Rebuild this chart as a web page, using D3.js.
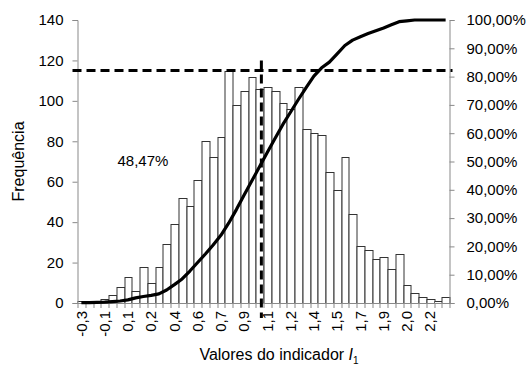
<!DOCTYPE html>
<html>
<head>
<meta charset="utf-8">
<script src="https://cdn.jsdelivr.net/npm/d3@7"></script>
<style>
  html, body { margin: 0; padding: 0; background: #fff; }
  svg { display: block; font-family: "Liberation Sans", Arial, sans-serif; }
</style>
</head>
<body>
<svg id="chart" width="531" height="366"></svg>
<script>
// histogram counts per bin (48 bins)
const freq = [1, 0, 1, 2, 4, 8, 13, 6, 18, 10,
  18, 29, 39, 52, 48, 61, 80, 72, 82, 115,
  98, 105, 112, 106, 107, 105, 99, 96, 107, 86,
  84, 83, 65, 56, 72, 44, 28, 26, 22, 23,
  17, 24, 9, 5, 3, 2, 1, 3]

// cumulative percentage
const cumPct = [0.1, 0.1, 0.2, 0.3, 0.5, 0.7, 1.1, 1.8, 2.3, 2.7,
  3.2, 4.6, 6.5, 8.5, 11.3, 14.3, 17.3, 20.5, 23.9, 28.2,
  33, 38.2, 43.2, 48.2, 53.3, 58.2, 63.1, 67.5, 71.9, 76.1,
  80.2, 83.1, 85.1, 88, 91, 92.9, 94.1, 95.2, 96.2, 97.2,
  98.3, 99.4, 99.7, 100, 100, 100, 100, 100]

// labels shown on every third bin
const tickLabels = ['-0,3', '-0,1', '0,1', '0,2', '0,4', '0,6', '0,7', '0,9',
  '1,1', '1,2', '1,4', '1,5', '1,7', '1,9', '2,0', '2,2']
const labelEvery = 3

const leftTicks = [0, 20, 40, 60, 80, 100, 120, 140]
const rightTicks = [0, 10, 20, 30, 40, 50, 60, 70, 80, 90, 100]

// value of the indicator at first / last bin centre, and the marked threshold
const binCentreRange = [-0.26, 2.31]
const threshold = 1.01
const thresholdCount = 115
const thresholdTop = 120
const shareLabel = '48,47%'

const margin = { top: 20, right: 81.5, bottom: 63, left: 77.5 }
const width = 531
const height = 366
const innerW = width - margin.left - margin.right
const innerH = height - margin.top - margin.bottom

const svg = d3.select('#chart')
const g = svg.append('g').attr('transform', `translate(${margin.left},${margin.top})`)

const x = d3.scaleBand().domain(d3.range(freq.length)).range([0, innerW]).padding(0)
const xVal = d3.scaleLinear().domain(binCentreRange)
  .range([x(0) + x.bandwidth() / 2, x(freq.length - 1) + x.bandwidth() / 2])
const y = d3.scaleLinear().domain([0, 140]).range([innerH, 0])
const y2 = d3.scaleLinear().domain([0, 100]).range([innerH, 0])

const axisColor = '#898989'
const fontSize = 15
const comma = s => s.replace('.', ',')

// bars
g.append('g')
  .selectAll('rect')
  .data(freq)
  .join('rect')
  .attr('x', (d, i) => Math.round(x(i)) + 0.5)
  .attr('y', d => Math.round(y(d)) + 0.5)
  .attr('width', (d, i) => Math.round(x(i) + x.bandwidth()) - Math.round(x(i)))
  .attr('height', d => Math.max(0, Math.round(y(0)) - Math.round(y(d))))
  .attr('fill', '#fff')
  .attr('stroke', '#333')
  .attr('stroke-width', 1)

// left axis
const leftAxis = g.append('g')
  .call(d3.axisLeft(y).tickValues(leftTicks).tickSize(5).tickPadding(9))
leftAxis.select('.domain').attr('stroke', axisColor)
leftAxis.selectAll('.tick line').attr('stroke', axisColor)
leftAxis.selectAll('text').attr('font-size', fontSize).attr('fill', '#000')
  .attr('font-family', '"Liberation Sans", Arial, sans-serif')

// right axis
const rightAxis = g.append('g').attr('transform', `translate(${innerW},0)`)
  .call(d3.axisRight(y2).tickValues(rightTicks).tickSize(5).tickPadding(12)
    .tickFormat(d => comma(d3.format('.2f')(d)) + '%'))
rightAxis.select('.domain').attr('stroke', axisColor)
rightAxis.selectAll('.tick line').attr('stroke', axisColor)
rightAxis.selectAll('text').attr('font-size', fontSize).attr('fill', '#000')
  .attr('font-family', '"Liberation Sans", Arial, sans-serif')

// bottom axis: baseline, ticks on bin edges, labels on every third bin
const bottom = g.append('g').attr('transform', `translate(0,${innerH})`)
bottom.append('line')
  .attr('x1', 0).attr('x2', innerW).attr('y1', 0.5).attr('y2', 0.5)
  .attr('stroke', axisColor)
bottom.selectAll('line.edge')
  .data(d3.range(freq.length + 1))
  .join('line')
  .attr('class', 'edge')
  .attr('x1', i => Math.round(i < freq.length ? x(i) : innerW) + 0.5)
  .attr('x2', i => Math.round(i < freq.length ? x(i) : innerW) + 0.5)
  .attr('y1', 0).attr('y2', 5)
  .attr('stroke', axisColor)
bottom.selectAll('text')
  .data(tickLabels)
  .join('text')
  .attr('transform', (d, i) => `translate(${x(i * labelEvery) + x.bandwidth() / 2},8) rotate(-90)`)
  .attr('text-anchor', 'end')
  .attr('dy', '0.35em')
  .attr('font-size', fontSize)
  .text(d => d)

// cumulative curve
const line = d3.line()
  .x((d, i) => x(i) + x.bandwidth() / 2)
  .y(d => y2(d))
g.append('path')
  .datum(cumPct)
  .attr('fill', 'none')
  .attr('stroke', '#000')
  .attr('stroke-width', 3.2)
  .attr('stroke-linejoin', 'round')
  .attr('d', line)

// threshold guides
g.append('line')
  .attr('x1', -5).attr('x2', innerW + 3)
  .attr('y1', y(thresholdCount)).attr('y2', y(thresholdCount))
  .attr('stroke', '#000').attr('stroke-width', 3)
  .attr('stroke-dasharray', '9,5')
g.append('line')
  .attr('x1', xVal(threshold)).attr('x2', xVal(threshold))
  .attr('y1', y(thresholdTop)).attr('y2', innerH + 15)
  .attr('stroke', '#000').attr('stroke-width', 3)
  .attr('stroke-dasharray', '9,5')

g.append('text')
  .attr('x', 40).attr('y', 146)
  .attr('font-size', fontSize)
  .text(shareLabel)

// axis titles
svg.append('text')
  .attr('transform', `translate(24,${margin.top + innerH / 2}) rotate(-90)`)
  .attr('text-anchor', 'middle')
  .attr('font-size', 16)
  .text('Frequência')

const xTitle = svg.append('text')
  .attr('x', 279).attr('y', 360)
  .attr('text-anchor', 'middle')
  .attr('font-size', 16)
xTitle.append('tspan').text('Valores do indicador ')
xTitle.append('tspan').attr('font-style', 'italic').text('I')
xTitle.append('tspan').attr('font-size', 10).attr('dy', 4).text('1')
</script>
</body>
</html>
